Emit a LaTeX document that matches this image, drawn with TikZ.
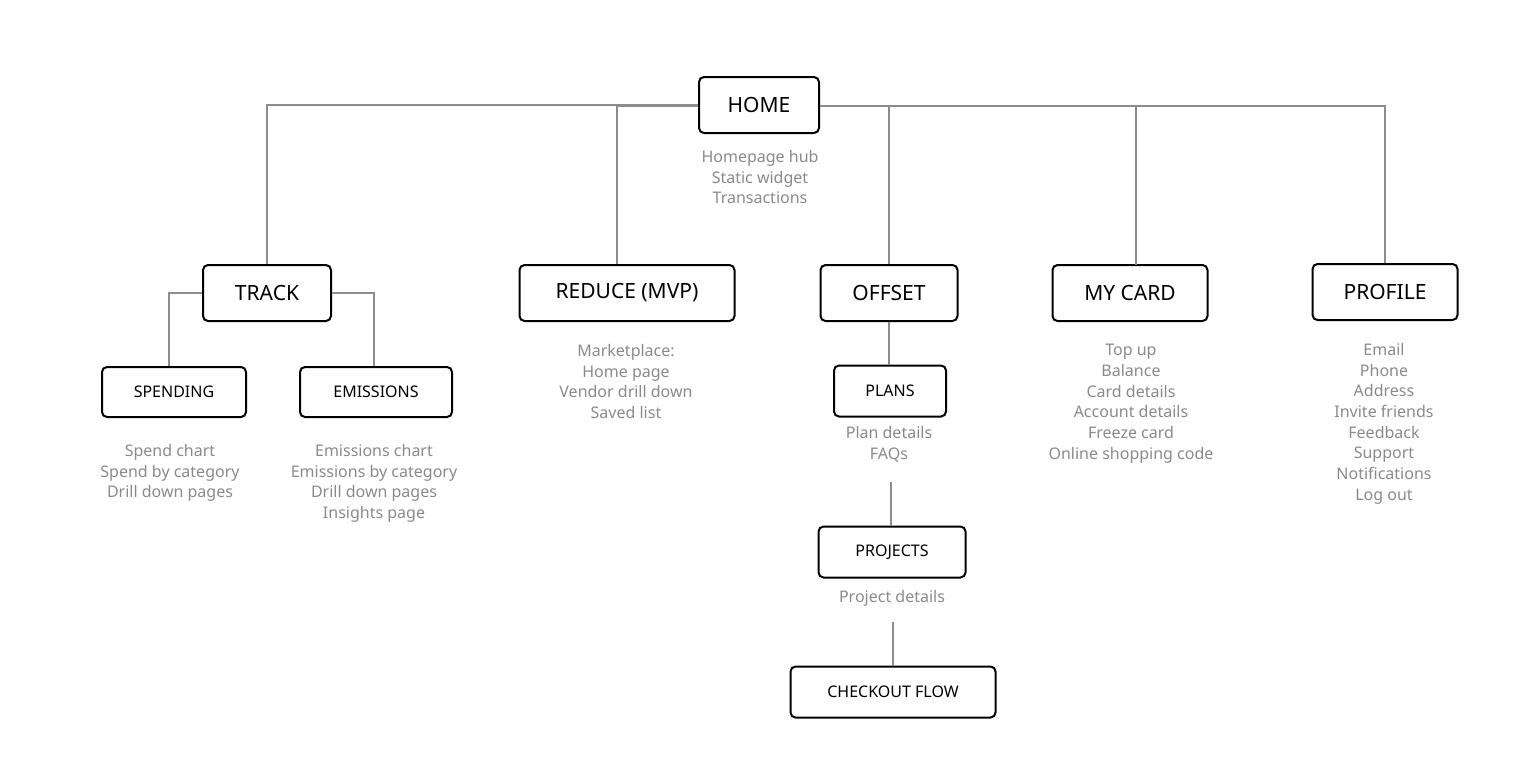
\documentclass[tikz,border=0pt]{standalone}
\usepackage{fontspec}
\setmainfont{Noto Sans}
\definecolor{ln}{HTML}{8C8C8C}
\definecolor{tx}{HTML}{8A8A8A}
\begin{document}
\begin{tikzpicture}[x=1pt,y=-1pt,
 box/.style={draw=black,line width=2pt,rounded corners=5pt,fill=white,inner sep=0pt},
 big/.style={box,font=\fontsize{21}{24}\selectfont\bfseries},
 small/.style={box,font=\fontsize{16}{19}\selectfont\bfseries},
 lst/.style={text=tx,align=center,anchor=north,inner sep=0pt,font=\fontsize{16}{20.7}\selectfont},
 con/.style={draw=ln,line width=2.5pt}]
\useasboundingbox (0,0) rectangle (1540,779);
\node[big,minimum width=120pt,minimum height=56pt] (home) at (759,105) {HOME};
\node[big,minimum width=128pt,minimum height=56pt] (track) at (267,293) {TRACK};
\node[big,minimum width=215pt,minimum height=56pt] (reduce) at (627,293) {REDUCE (MVP)};
\node[big,minimum width=137pt,minimum height=56pt] (offset) at (889,293) {OFFSET};
\node[big,minimum width=155pt,minimum height=56pt] (card) at (1130,293) {MY CARD};
\node[big,minimum width=145pt,minimum height=56pt] (profile) at (1385,292) {PROFILE};
\node[small,minimum width=144pt,minimum height=50pt] (spend) at (174,392) {SPENDING};
\node[small,minimum width=152pt,minimum height=50pt] (emis) at (376,392) {EMISSIONS};
\node[small,minimum width=112pt,minimum height=51pt] (plans) at (890,391) {PLANS};
\node[small,minimum width=147pt,minimum height=51pt] (proj) at (892,552) {PROJECTS};
\node[small,minimum width=205pt,minimum height=51pt] (check) at (893,692) {CHECKOUT FLOW};
\coordinate (c1) at (891,482);
\coordinate (c2) at (893,622);
\begin{scope}[on background layer/.try]
\end{scope}
\draw[con] (home.west) ++(0,0) -| (track.north);
\draw[con] (home.west |- 0,106) -| (reduce.north -| 617,0);
\draw[con] (home.east |- 0,106) -| (profile.north);
\draw[con] (889,106) -- (offset.north);
\draw[con] (1136,106) -- (1136,265);
\draw[con] (track.west) -| (spend.north -| 169,0);
\draw[con] (track.east) -| (emis.north -| 374,0);
\draw[con] (offset.south) -- (plans.north -| offset.south);
\draw[con] (c1) -- (proj.north -| c1);
\draw[con] (c2) -- (check.north -| c2);
\node[lst] (l1) at (760,150) {Homepage hub\\Static widget\\Transactions};
\node[lst] (l2) at (170,444) {Spend chart\\Spend by category\\Drill down pages};
\node[lst] (l3) at (374,444) {Emissions chart\\Emissions by category\\Drill down pages\\Insights page};
\node[lst] (l4) at (626,344) {Marketplace:\\Home page\\Vendor drill down\\Saved list};
\node[lst] (l5) at (889,426) {Plan details\\FAQs};
\node[lst] (l6) at (892,590) {Project details};
\node[lst] (l7) at (1131,344) {Top up\\Balance\\Card details\\Account details\\Freeze card\\Online shopping code};
\node[lst] (l8) at (1384,343) {Email\\Phone\\Address\\Invite friends\\Feedback\\Support\\Notifications\\Log out};
\end{tikzpicture}
\end{document}
